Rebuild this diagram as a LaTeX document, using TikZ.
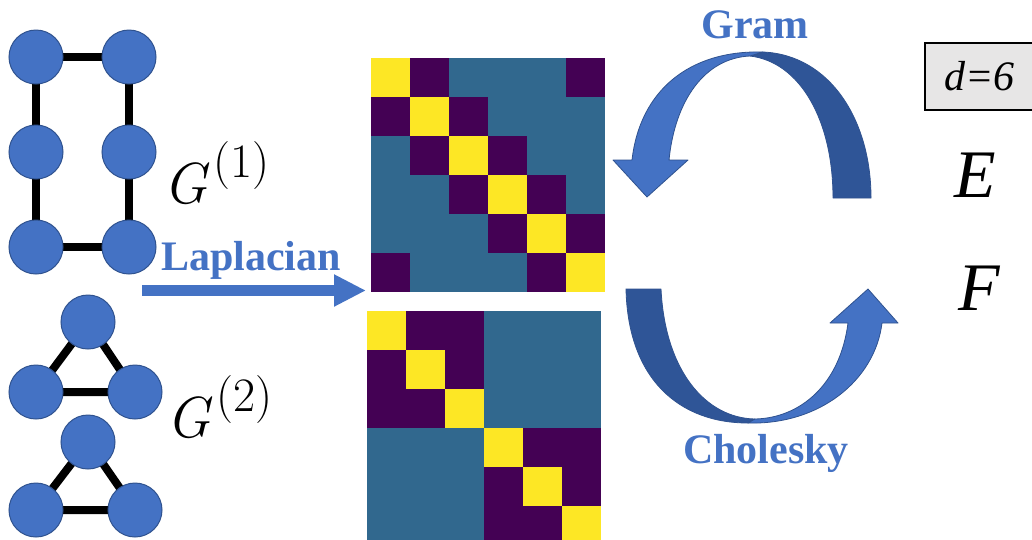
\documentclass[tikz,border=0pt]{standalone}
\usepackage{fontspec}
\newfontfamily\tnr{Liberation Serif}
\usetikzlibrary{arrows.meta,backgrounds}
\definecolor{nodeblue}{HTML}{4472C4}
\definecolor{nodeedge}{HTML}{2F528F}
\definecolor{darkband}{HTML}{2F5597}
\definecolor{vyel}{HTML}{FDE725}
\definecolor{vpur}{HTML}{440154}
\definecolor{vtea}{HTML}{31688E}
\definecolor{boxgray}{HTML}{E7E6E6}
\tikzset{
  gnode/.style={circle, fill=nodeblue, draw=nodeedge, line width=1pt, minimum size=54pt, inner sep=0pt},
  gedge/.style={line width=8pt, black},
  lbl/.style={font=\tnr\bfseries\fontsize{42}{42}\selectfont, text=nodeblue, inner sep=0pt, anchor=base},
  mathlbl/.style={font=\tnr\itshape\fontsize{68}{68}\selectfont, inner sep=0pt, anchor=base},
  glbl/.style={inner sep=0pt, anchor=base west},
  lightband/.style={fill=nodeblue, draw=nodeedge, line width=0.8pt, line join=round},
  darkpart/.style={fill=darkband, draw=nodeedge, line width=0.8pt, line join=round},
  cellY/.style={fill=vyel},
  cellP/.style={fill=vpur},
}
\newcommand{\glabel}[1]{{\fontsize{58}{58}\selectfont\itshape G}\hspace{6pt}{\fontsize{48}{48}\selectfont\raisebox{26pt}{(#1)}}}
\begin{document}
\begin{tikzpicture}[x=1pt,y=-1pt]
\clip (0,0) rectangle (1032,539);

% ---- graph 1 (6-cycle)
\node[gnode] (a1) at (36,57) {};
\node[gnode] (a2) at (129,57) {};
\node[gnode] (a3) at (36,152) {};
\node[gnode] (a4) at (129,152) {};
\node[gnode] (a5) at (36,247) {};
\node[gnode] (a6) at (129,247) {};
% ---- graph 2 (two triangles)
\node[gnode] (b1) at (88,322) {};
\node[gnode] (b2) at (36,392) {};
\node[gnode] (b3) at (135,392) {};
\node[gnode] (c1) at (88,442) {};
\node[gnode] (c2) at (36,510) {};
\node[gnode] (c3) at (135,510) {};
\begin{scope}[on background layer]
  \fill[white] (0,0) rectangle (1032,539);
  \draw[gedge] (a1.center) -- (a2.center) -- (a4.center) -- (a6.center) -- (a5.center) -- (a3.center) -- cycle;
  \draw[gedge] (b1.center) -- (b2.center) -- (b3.center) -- cycle;
  \draw[gedge] (c1.center) -- (c2.center) -- (c3.center) -- cycle;
\end{scope}

% ---- graph labels
\node[glbl] (g1) at (163,203) {\glabel{1}};
\node[glbl] (g2) at (166,437) {\glabel{2}};

% ---- Laplacian arrow
\node[lbl] (lap) at (251,270) {Laplacian};
\coordinate (lapS) at (142,290.5);
\coordinate (lapE) at (366,290.5);
\draw[nodeblue, line width=11pt, -{Triangle[length=32pt,width=30pt]}] (lapS) -- (lapE);

% ---- matrix 1 (cycle Laplacian)
\node[inner sep=0pt, minimum size=234pt, fill=vtea] (m1) at (488,175) {};
\begin{scope}[shift={(371,58)}]
  \foreach \i/\j in {0/1,1/0,1/2,2/1,2/3,3/2,3/4,4/3,4/5,5/4,0/5,5/0}
    \fill[cellP] (39*\j,39*\i) rectangle ++(39,39);
  \foreach \i in {0,...,5}
    \fill[cellY] (39*\i,39*\i) rectangle ++(39,39);
\end{scope}

% ---- matrix 2 (two triangles)
\node[inner sep=0pt, minimum size=234pt, fill=vtea] (m2) at (484,428) {};
\begin{scope}[shift={(367,311)}]
  \fill[cellP] (0,0) rectangle (117,117);
  \fill[cellP] (117,117) rectangle (234,234);
  \foreach \i in {0,...,5}
    \fill[cellY] (39*\i,39*\i) rectangle ++(39,39);
\end{scope}

% ---- Gram curved arrow
\node[lbl] (gram) at (755,38) {Gram};
\fill[darkpart] (763,52) .. controls (830,55) and (871,120) .. (871,198)
  -- (833,198) .. controls (833,120) and (800,62) .. (750,56) -- cycle;
\fill[lightband] (632,160) .. controls (640,90) and (690,50) .. (763,52)
  -- (750,56) .. controls (705,58) and (675,100) .. (669,160)
  -- (688,160) -- (647,197) -- (613,160) -- cycle;

% ---- Cholesky curved arrow
\node[lbl] (chol) at (766,463) {Cholesky};
\fill[darkpart] (626,289) .. controls (628,380) and (680,423) .. (748,423)
  -- (755,419) .. controls (705,418) and (665,370) .. (661,289) -- cycle;
\fill[lightband] (748,423) .. controls (820,425) and (875,380) .. (882,323)
  -- (898,323) -- (868,289) -- (830,323) -- (848,323)
  .. controls (840,385) and (800,418) .. (755,419) -- cycle;

% ---- right column
\node[draw=black, line width=1.2pt, fill=boxgray, minimum width=109pt, minimum height=67pt, inner sep=0pt,
      font=\tnr\itshape\fontsize{42}{42}\selectfont] (dbox) at (979.5,76.5) {d=6};
\node[mathlbl] (E) at (975,197) {E};
\node[mathlbl] (F) at (979,310) {F};
\end{tikzpicture}
\end{document}
